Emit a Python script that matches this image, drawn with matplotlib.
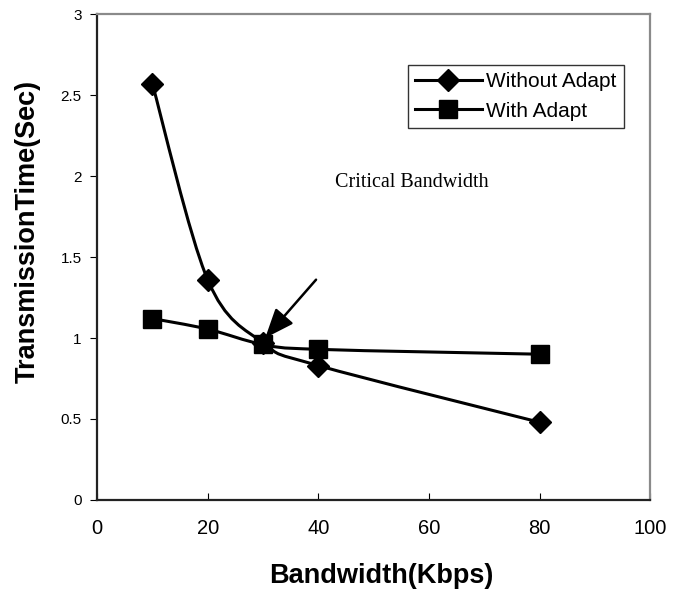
import matplotlib.pyplot as plt
from matplotlib.path import Path
from matplotlib.patches import PathPatch
import numpy as np

# --- DATA ---
bandwidth = [10, 20, 30, 40, 80]
without_adapt = [2.57, 1.36, 0.97, 0.83, 0.48]
with_adapt = [1.12, 1.055, 0.96, 0.93, 0.90]
x_ticks = [0, 20, 40, 60, 80, 100]
y_ticks = [0, 0.5, 1, 1.5, 2, 2.5, 3]


def smooth_path(xs, ys):
    # Excel-like smoothed line: cubic Bezier through the points (Catmull-Rom controls)
    p = np.column_stack([xs, ys]).astype(float)
    n = len(p)
    verts = [p[0]]
    codes = [Path.MOVETO]
    for i in range(n - 1):
        p_prev = p[i - 1] if i > 0 else p[i]
        p_next = p[i + 2] if i + 2 < n else p[i + 1]
        c1 = p[i] + (p[i + 1] - p_prev) / 6
        c2 = p[i + 1] - (p_next - p[i]) / 6
        verts += [c1, c2, p[i + 1]]
        codes += [Path.CURVE4] * 3
    return Path(verts, codes)


fig = plt.figure(figsize=(6.94, 5.97), dpi=100)
ax = fig.add_axes([0.1398, 0.1625, 0.797, 0.814])

for ys, marker, ms, lab in [(without_adapt, 'D', 11, 'Without Adapt'),
                            (with_adapt, 's', 13.5, 'With Adapt')]:
    ax.add_patch(PathPatch(smooth_path(bandwidth, ys), fill=False,
                           edgecolor='black', lw=2.2))
    ax.plot(bandwidth, ys, linestyle='none', marker=marker, markersize=ms,
            color='black')
    # legend handle
    ax.plot([], [], '-', marker=marker, markersize=ms, color='black',
            lw=2.2, label=lab)

ax.annotate('', xy=(30.4, 1.0), xytext=(39.6, 1.36),
            arrowprops=dict(arrowstyle='-|>,head_length=0.75,head_width=0.3',
                            color='black', lw=1.8,
                            mutation_scale=24, shrinkA=0, shrinkB=0))
ax.text(43, 1.96, 'Critical Bandwidth', fontsize=14.5,
        family='Liberation Serif', va='center', ha='left')

ax.set_xlim(0, 100)
ax.set_ylim(0, 3)
ax.set_xticks(x_ticks)
ax.set_yticks(y_ticks)
ax.set_yticklabels([f'{v:g}' for v in y_ticks])
ax.tick_params(axis='x', direction='in', length=5, labelsize=14.5, pad=14)
ax.tick_params(axis='y', direction='out', length=5, labelsize=11, pad=6)
for t in ax.get_xticklabels() + ax.get_yticklabels():
    t.set_family('Liberation Sans')

for side in ['top', 'right']:
    ax.spines[side].set_color('#8a8a8a')
    ax.spines[side].set_linewidth(1.6)
for side in ['left', 'bottom']:
    ax.spines[side].set_color('#222222')
    ax.spines[side].set_linewidth(1.6)

fig.text(381 / 694, 1 - 576 / 597, 'Bandwidth(Kbps)', fontsize=19.5,
         fontweight='bold', family='Liberation Sans', ha='center', va='center')
fig.text(28 / 694, 1 - 231 / 597, 'TransmissionTime(Sec)', fontsize=19.5,
         fontweight='bold', family='Liberation Sans', rotation=90,
         ha='center', va='center')

leg = ax.legend(loc='upper left', bbox_to_anchor=(0.562, 0.895),
                frameon=True, fancybox=False, edgecolor='black',
                handlelength=3.2, handletextpad=0.2, borderpad=0.35,
                borderaxespad=0, labelspacing=0.5,
                prop={'family': 'Liberation Sans', 'size': 15})
leg.get_frame().set_linewidth(1.0)

fig.savefig('out.png', dpi=100)
